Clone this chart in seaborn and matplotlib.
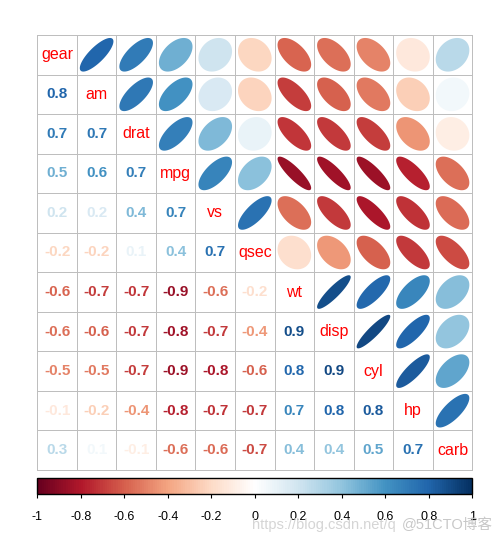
import numpy as np
import matplotlib
matplotlib.use("Agg")
import matplotlib.pyplot as plt
import seaborn as sns
from matplotlib.colors import LinearSegmentedColormap, ListedColormap, Normalize
from matplotlib.patches import Polygon
from matplotlib.cm import ScalarMappable

# variables in the (clustered) order of the plot
variables = ["gear", "am", "drat", "mpg", "vs", "qsec", "wt", "disp", "cyl", "hp", "carb"]

# lower triangle of the correlation matrix, one list per row (row 1 = am ... row 10 = carb)
row_am = [0.794]
row_drat = [0.700, 0.713]
row_mpg = [0.480, 0.600, 0.681]
row_vs = [0.206, 0.168, 0.440, 0.664]
row_qsec = [-0.213, -0.230, 0.091, 0.419, 0.745]
row_wt = [-0.583, -0.692, -0.712, -0.868, -0.555, -0.175]
row_disp = [-0.556, -0.591, -0.710, -0.848, -0.710, -0.434, 0.888]
row_cyl = [-0.493, -0.523, -0.700, -0.852, -0.811, -0.591, 0.782, 0.902]
row_hp = [-0.126, -0.243, -0.449, -0.776, -0.723, -0.708, 0.659, 0.791, 0.832]
row_carb = [0.274, 0.058, -0.091, -0.551, -0.570, -0.656, 0.428, 0.395, 0.527, 0.749]
lower_rows = [row_am, row_drat, row_mpg, row_vs, row_qsec, row_wt, row_disp, row_cyl, row_hp, row_carb]

# RdBu palette as used by corrplot (white centre)
palette = ["#67001F", "#B2182B", "#D6604D", "#F4A582", "#FDDBC7", "#FFFFFF",
           "#D1E5F0", "#92C5DE", "#4393C3", "#2166AC", "#053061"]
cbar_ticks = [-1, -0.8, -0.6, -0.4, -0.2, 0, 0.2, 0.4, 0.6, 0.8, 1]
cbar_labels = ["-1", "-0.8", "-0.6", "-0.4", "-0.2", "0", "0.2", "0.4", "0.6", "0.8", "1"]

# build full symmetric matrix
n = len(variables)
corr = np.eye(n)
for i, row in enumerate(lower_rows, start=1):
    for j, v in enumerate(row):
        corr[i, j] = v
        corr[j, i] = v

cmap = LinearSegmentedColormap.from_list("corrplot_rdbu", palette, N=200)
norm = Normalize(vmin=-1, vmax=1)

plt.rcParams["font.family"] = ["Liberation Sans", "Noto Sans CJK SC", "DejaVu Sans"]

W, H = 504, 541
fig = plt.figure(figsize=(W / 100, H / 100), dpi=100)
ax = fig.add_axes([37.3 / W, 1 - 470 / H, 435 / W, 435 / H])

# white grid of cells with grey borders
sns.heatmap(np.zeros((n, n)), cmap=ListedColormap(["white"]), cbar=False,
            linewidths=0.6, linecolor="#BEBEBE", xticklabels=False, yticklabels=False,
            square=False, ax=ax)
ax.collections[0].set_clip_on(False)

t = np.linspace(0, 2 * np.pi, 99)
for i in range(n):
    # diagonal: variable names
    ax.text(i + 0.5, i + 0.5, variables[i], color="red", ha="center", va="center",
            fontsize=11.5)
    for j in range(n):
        r = corr[i, j]
        if j > i:
            # upper triangle: ellipses
            a = np.arccos(r)
            ex = 0.85 * np.cos(t + a / 2) / 2
            ey = 0.85 * np.cos(t - a / 2) / 2
            ax.add_patch(Polygon(np.column_stack([j + 0.5 + ex, i + 0.5 - ey]),
                                 closed=True, facecolor=cmap(norm(r)), edgecolor="none"))
        elif j < i:
            # lower triangle: numbers
            ax.text(j + 0.5, i + 0.5, f"{r:.1f}", color=cmap(norm(r)), ha="center",
                    va="center", fontsize=11, fontweight="bold")

# colour legend
cax = fig.add_axes([37.3 / W, 1 - 494.3 / H, 435 / W, 16 / H])
cb = fig.colorbar(ScalarMappable(norm=norm, cmap=cmap), cax=cax, orientation="horizontal",
                  ticks=cbar_ticks)
cb.set_ticklabels(cbar_labels)
cb.outline.set_linewidth(1)
cb.outline.set_edgecolor("black")
cax.tick_params(axis="x", length=3, width=0.8, direction="out", pad=9, labelsize=9)

# watermark
fig.text(252 / W, 1 - 529 / H, "https://blog.csdn.net/q", color="#D5D5D5", fontsize=10.5,
         va="baseline")
fig.text(493 / W, 1 - 529 / H, "@51CTO博客", color="#C8C8C8", fontsize=10.5,
         va="baseline", ha="right")

fig.savefig("out.png", dpi=100)
